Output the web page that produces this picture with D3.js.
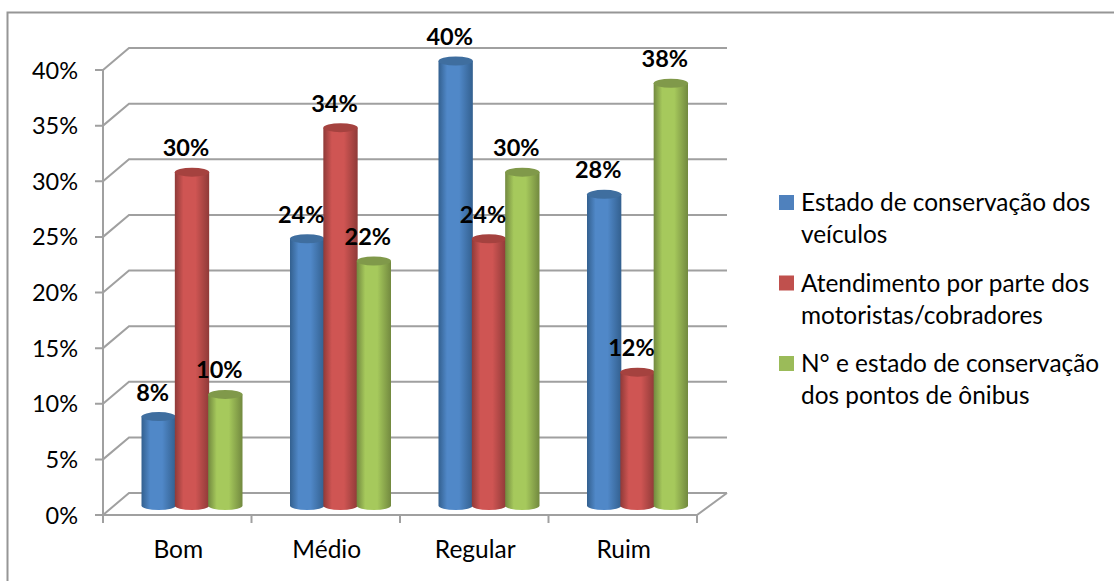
<!DOCTYPE html>
<html>
<head>
<meta charset="utf-8">
<script src="https://cdn.jsdelivr.net/npm/d3@7"></script>
<style>
    html, body { margin: 0; padding: 0; background: #fff; }
    svg { display: block; }
    text { font-family: Lato, "Open Sans", sans-serif; fill: #000; }
</style>
</head>
<body>
<div id="chart"></div>
<script>
var categories = ["Bom", "Médio", "Regular", "Ruim"];
var seriesNames = ["veiculos", "atendimento", "pontos"];
var veiculos = [8, 24, 40, 28];
var atendimento = [30, 34, 24, 12];
var pontos = [10, 22, 30, 38];
var yTicks = [0, 5, 10, 15, 20, 25, 30, 35, 40];
var legendLines = [
    ["Estado de conservação dos", "veículos"],
    ["Atendimento por parte dos", "motoristas/cobradores"],
    ["N° e estado de conservação", "dos pontos de ônibus"]
];

var colors = [
    { edge: "#33608f", mid: "#5088c8", top: "#3f6e9f", key: "#4f81bd" },
    { edge: "#8f3a38", mid: "#cf5553", top: "#a5423f", key: "#c0504d" },
    { edge: "#72893f", mid: "#a6c95c", top: "#80994a", key: "#9bbb59" }
];

var width = 1114,
    height = 581,
    gridColor = "#a0a0a0",
    depthX = 26,
    depthY = 22;

var svg = d3.select("#chart").append("svg")
    .attr("width", width)
    .attr("height", height);

// outer frame, runs off the right and bottom of the picture
svg.append("path")
    .attr("d", "M1114,12.5H7.5V581")
    .attr("fill", "none")
    .attr("stroke", "#969696")
    .attr("stroke-width", 2);

var yScale = d3.scaleLinear().domain([0, 40]).range([515, 70]);
var xScale = d3.scaleBand().domain(categories).range([103, 697]);

// bars stand a little behind the front edge of the floor
var barY = d3.scaleLinear().domain([0, 40]).range([505.5, 61]);
var barX = d3.scaleBand().domain(d3.range(3)).range([0, 100]);
var barOffset = 39;
var barR = barX.bandwidth() / 2 + 0.5;
var ry = 4.5;

var defs = svg.append("defs");
colors.forEach(function (c, i) {
    var grad = defs.append("linearGradient").attr("id", "cyl" + i);
    grad.append("stop").attr("offset", "0%").attr("stop-color", c.edge);
    grad.append("stop").attr("offset", "25%").attr("stop-color", c.mid);
    grad.append("stop").attr("offset", "60%").attr("stop-color", c.mid);
    grad.append("stop").attr("offset", "100%").attr("stop-color", c.edge);
});

// walls and floor
var grid = svg.append("g")
    .attr("fill", "none")
    .attr("stroke", gridColor)
    .attr("stroke-width", 2);

yTicks.forEach(function (t) {
    var y = yScale(t);
    grid.append("path")
        .attr("d", "M95," + y + "H103L" + (103 + depthX) + "," + (y - depthY) + "H727");
});

grid.append("path").attr("d", "M103," + yScale(40) + "V515H697L727," + (515 - depthY));

xScale.domain().concat(["end"]).forEach(function (c, i) {
    var x = 103 + i * xScale.step();
    grid.append("path").attr("d", "M" + x + ",515V523");
});

// cylinders
var seriesValues = [veiculos, atendimento, pontos];
var barsG = svg.append("g");

seriesNames.forEach(function (name, s) {
    var g = barsG.append("g").attr("class", name);
    var cx = function (d, i) {
        return xScale(categories[i]) + barOffset + barX(s) + barX.bandwidth() / 2;
    };

    g.selectAll("path")
        .data(seriesValues[s])
        .enter()
        .append("path")
        .attr("fill", "url(#cyl" + s + ")")
        .attr("d", function (d, i) {
            var x = cx(d, i), top = barY(d), bottom = barY(0);
            return "M" + (x - barR) + "," + top +
                "V" + bottom +
                "A" + barR + "," + ry + " 0 0 0 " + (x + barR) + "," + bottom +
                "V" + top + "Z";
        });

    g.selectAll("ellipse")
        .data(seriesValues[s])
        .enter()
        .append("ellipse")
        .attr("fill", colors[s].top)
        .attr("cx", cx)
        .attr("cy", function (d) { return barY(d); })
        .attr("rx", barR)
        .attr("ry", ry);
});

// value labels go over all the bars
seriesNames.forEach(function (name, s) {
    svg.append("g").selectAll("text")
        .data(seriesValues[s])
        .enter()
        .append("text")
        .attr("x", function (d, i) {
            return xScale(categories[i]) + barOffset + barX(s) + barX.bandwidth() / 2 - 6;
        })
        .attr("y", function (d) { return barY(d) - 16; })
        .attr("text-anchor", "middle")
        .attr("font-size", "23.5px")
        .attr("font-weight", "700")
        .text(function (d) { return d + "%"; });
});

// axis labels
svg.append("g").selectAll("text")
    .data(yTicks)
    .enter()
    .append("text")
    .attr("x", 78)
    .attr("y", function (d) { return yScale(d) + 8.5; })
    .attr("text-anchor", "end")
    .attr("font-size", "23.5px")
    .text(function (d) { return d + "%"; });

svg.append("g").selectAll("text")
    .data(categories)
    .enter()
    .append("text")
    .attr("x", function (d) { return xScale(d) + xScale.bandwidth() / 2 + 1; })
    .attr("y", 558)
    .attr("text-anchor", "middle")
    .attr("font-size", "24.5px")
    .text(function (d) { return d; });

// legend
var legend = svg.append("g").selectAll("g")
    .data(legendLines)
    .enter()
    .append("g")
    .attr("transform", function (d, i) { return "translate(779," + (195 + i * 80.5) + ")"; });

legend.append("rect")
    .attr("width", 15)
    .attr("height", 15)
    .attr("fill", function (d, i) { return colors[i].key; });

legend.each(function (d) {
    d3.select(this).selectAll("text")
        .data(d)
        .enter()
        .append("text")
        .attr("x", 22)
        .attr("y", function (line, j) { return 16 + j * 32; })
        .attr("font-size", "24.4px")
        .text(function (line) { return line; });
});
</script>
</body>
</html>
